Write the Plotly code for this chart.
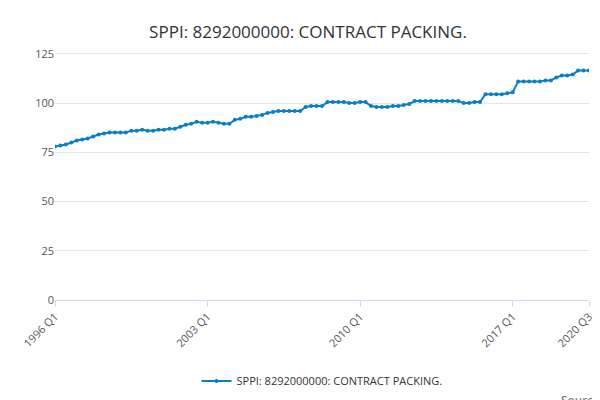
import plotly.graph_objects as go

values = [
 78, 78.5, 79, 80,
 81, 81.5, 82, 83,
 84, 84.5, 85, 85,
 85, 85, 86, 86,
 86.5, 86, 86, 86.5,
 86.5, 87, 87, 88,
 89, 89.5, 90.5, 90,
 90, 90.5, 90, 89.5,
 89.5, 91.5, 92, 93,
 93, 93.5, 94, 95,
 95.5, 96, 96, 96,
 96, 96, 98, 98.5,
 98.5, 98.5, 100.5, 100.5,
 100.5, 100.5, 100, 100,
 100.5, 100.5, 98.5, 98,
 98, 98, 98.5, 98.5,
 99, 99.5, 101, 101,
 101, 101, 101, 101,
 101, 101, 101, 100,
 100, 100.5, 100.5, 104.5,
 104.5, 104.5, 104.5, 105,
 105.5, 111, 111, 111,
 111, 111, 111.5, 111.5,
 113, 114, 114, 114.5,
 116.5, 116.5, 116.5,
]
quarters = [f"{y} Q{q}" for y in range(1996, 2021) for q in range(1, 5)][:len(values)]
tick_labels = ["1996 Q1", "2003 Q1", "2010 Q1", "2017 Q1", quarters[-1]]

fig = go.Figure(go.Scatter(
    x=quarters, y=values, mode="lines+markers",
    name="SPPI: 8292000000: CONTRACT PACKING.", showlegend=True,
    line=dict(color="#0b7fc4", width=2), marker=dict(size=4, color="#0b7fc4"),
))
fig.update_layout(
    width=600, height=400, paper_bgcolor="white", plot_bgcolor="white",
    title=dict(text="SPPI: 8292000000: CONTRACT PACKING.", x=0.5, y=0.955,
               font=dict(family="Open Sans", size=17, color="#333")),
    margin=dict(l=47, r=19, t=36, b=103),
    font=dict(family="Open Sans", size=11, color="#555"),
    showlegend=True,
    legend=dict(orientation="h", x=0.5, xanchor="center", y=-0.26, yanchor="top",
                font=dict(size=11, color="#333")),
    annotations=[dict(text="Source:", x=1.03, y=-0.35, xref="paper", yref="paper",
                      xanchor="right", yanchor="top", showarrow=False,
                      font=dict(size=12, color="#666"))],
)
fig.update_xaxes(tickmode="array", tickvals=tick_labels, ticktext=tick_labels,
                 range=[0, len(values) - 1],
                 tickangle=-45, showgrid=False, showline=True, linecolor="#ccd6eb",
                 ticks="outside", tickcolor="#ccd6eb")
fig.update_yaxes(range=[0, 130], tickvals=[0, 25, 50, 75, 100, 125],
                 gridcolor="#e6e6e6", zeroline=False)
fig.write_html("out.html")
